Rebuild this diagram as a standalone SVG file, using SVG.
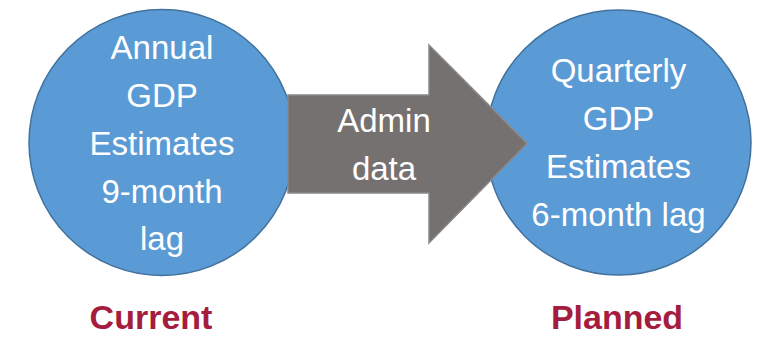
<svg xmlns="http://www.w3.org/2000/svg" width="757" height="338" viewBox="0 0 757 338">
<style>
.circ{fill:#5B9BD5;stroke:#41719C;stroke-width:1.5}
.arrow{fill:#767171;stroke:#8C8888;stroke-width:1.5}
.wt{font-family:"Liberation Sans",Arial,sans-serif;font-size:33px;fill:#FFFFFF;text-anchor:middle}
.lbl{font-family:"Liberation Sans",Arial,sans-serif;font-size:34px;font-weight:bold;fill:#A51C3E;text-anchor:middle}
</style>
<rect width="757" height="338" fill="#FFFFFF"/>
<g id="current">
<circle class="circ" cx="162" cy="142.5" r="133"/>
<text class="wt" x="162"><tspan x="162" y="59">Annual</tspan><tspan x="162" y="107">GDP</tspan><tspan x="162" y="155">Estimates</tspan><tspan x="162" y="203">9-month</tspan><tspan x="162" y="250">lag</tspan></text>
</g>
<g id="planned">
<circle class="circ" cx="618.5" cy="142.5" r="132.5"/>
<text class="wt" x="618.5"><tspan x="618.5" y="82">Quarterly</tspan><tspan x="618.5" y="130">GDP</tspan><tspan x="618.5" y="178">Estimates</tspan><tspan x="618.5" y="226">6-month lag</tspan></text>
</g>
<g id="connectors">
<g id="admin-arrow">
<polygon class="arrow" points="288,95 429,95 429,45 527,143.5 429,243 429,193 288,193"/>
<text class="wt" x="384"><tspan x="384" y="132">Admin</tspan><tspan x="384" y="180">data</tspan></text>
</g>
</g>
<g id="label-current"><text class="lbl" x="151" y="329">Current</text></g>
<g id="label-planned"><text class="lbl" x="617" y="329">Planned</text></g>
</svg>
